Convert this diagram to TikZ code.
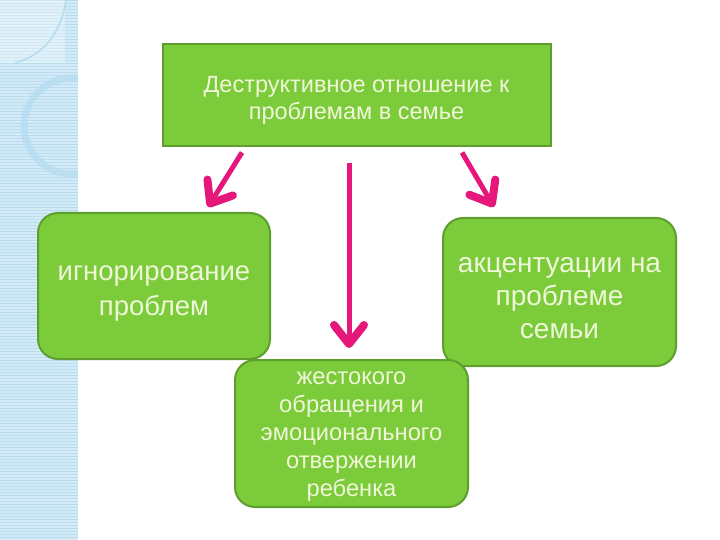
\documentclass[tikz,border=0pt]{standalone}
\usepackage{fontspec}
\setmainfont{Liberation Sans}
\usetikzlibrary{arrows.meta,calc}
\definecolor{boxfill}{HTML}{7BCB3B}
\definecolor{boxline}{HTML}{5E9E2E}
\definecolor{boxtext}{HTML}{F0F7D8}
\definecolor{arrcol}{HTML}{E5177A}
\definecolor{stripbg}{HTML}{D2EBF6}
\definecolor{stripline}{HTML}{B9DDEF}
\definecolor{ringcol}{HTML}{B4DCF0}
\begin{document}
\begin{tikzpicture}[x=1pt,y=-1pt,
  greenbox/.style={draw=boxline,line width=2pt,fill=boxfill,inner sep=0pt},
  boxlabel/.style={text=boxtext,align=center,inner sep=0pt},
  arr/.style={draw=arrcol,line width=5pt,-{Straight Barb[length=19pt,width=30pt,line width=8pt,round]}}]
\useasboundingbox (0,0) rectangle (720,540);
\fill[white] (0,0) rectangle (720,540);
% decorative strip
\fill[stripbg] (0,0) rectangle (78,540);
\foreach \i in {0,3,...,540} {\draw[stripline,line width=0.8pt] (0,\i) -- (78,\i);}
\fill[white,opacity=0.35] (0,0) rectangle (65,63);
\begin{scope}
\clip (0,0) rectangle (78,540);
\draw[ringcol,line width=7pt,opacity=0.7] (72,126) circle (48);
\draw[ringcol,line width=1.5pt] (15,63) .. controls (45,55) and (62,30) .. (66,0);
\end{scope}
% boxes
\node[greenbox,minimum width=388pt,minimum height=102pt] (top) at (356.5,95.5) {};
\node[greenbox,rounded corners=20pt,minimum width=232pt,minimum height=146pt] (left) at (154,286) {};
\node[greenbox,rounded corners=20pt,minimum width=233pt,minimum height=148pt] (right) at (559.5,292) {};
\node[greenbox,rounded corners=20pt,minimum width=233pt,minimum height=147pt] (bottom) at (351.5,433.5) {};
% texts
\node[boxlabel,font=\fontsize{23.5}{27}\selectfont] (toptxt) at ([yshift=-4.5pt]top.center)
  {Деструктивное отношение к\\проблемам в семье};
\node[boxlabel,font=\fontsize{27.5}{35}\selectfont] (lefttxt) at ([yshift=-7pt]left.center)
  {игнорирование\\проблем};
\node[boxlabel,font=\fontsize{28}{33}\selectfont] (righttxt) at ([yshift=-6pt]right.center)
  {акцентуации на\\проблеме\\семьи};
\node[boxlabel,font=\fontsize{23.7}{28}\selectfont] (bottomtxt) at ([yshift=-3pt]bottom.center)
  {жестокого\\обращения и\\эмоционального\\отвержении\\ребенка};
% arrows
\draw[arr] ([xshift=-114.5pt,yshift=-5pt]top.south) -- ([xshift=54pt,yshift=5pt]left.north);
\draw[arr] ([xshift=-7.5pt,yshift=-16pt]top.south) -- ([xshift=-2.5pt,yshift=11pt]bottom.north);
\draw[arr] ([xshift=105.5pt,yshift=-5pt]top.south) -- ([xshift=-65.5pt,yshift=10pt]right.north);
\end{tikzpicture}
\end{document}
